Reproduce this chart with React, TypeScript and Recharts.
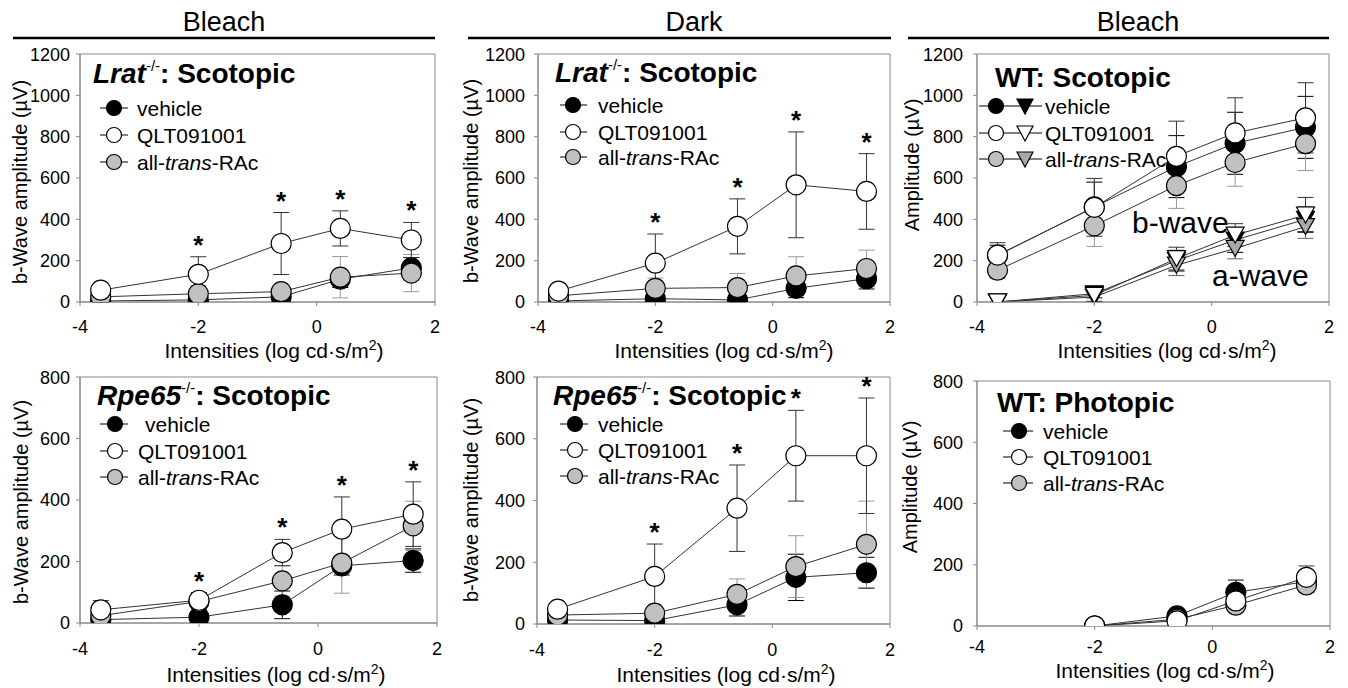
import React from 'react';
import { ComposedChart, Line, Scatter, XAxis, YAxis, ErrorBar, ReferenceArea } from 'recharts';

const FONT = '"Liberation Sans", Arial, Helvetica, sans-serif';
const GRAY = '#c0c0c0';
const TRI_GRAY = '#a8a8a8';
const AXIS = '#888';

// flash intensities (log cd·s/m²)
const SCOT_X = [-3.65, -2, -0.6, 0.4, 1.6];
const PHOT_X = [-2, -0.6, 0.4, 1.6];
const STAR_AT = [0, 1, 1, 1, 1];

const TICKS_1200 = [0, 200, 400, 600, 800, 1000, 1200];
const TICKS_800 = [0, 200, 400, 600, 800];

// Lrat-/- scotopic, bleach
const LRAT_BL_VEH = [5, 10, 25, 110, 165];
const LRAT_BL_VEH_SE = [5, 10, 15, 40, 50];
const LRAT_BL_ATR = [25, 40, 50, 120, 140];
const LRAT_BL_ATR_SE = [10, 40, 20, 100, 90];
const LRAT_BL_QLT = [57, 134, 283, 356, 300];
const LRAT_BL_QLT_SE = [15, 85, 150, 85, 85];

// Lrat-/- scotopic, dark
const LRAT_DK_VEH = [5, 16, 10, 66, 113];
const LRAT_DK_VEH_SE = [5, 10, 10, 45, 50];
const LRAT_DK_ATR = [30, 66, 70, 126, 162];
const LRAT_DK_ATR_SE = [10, 50, 68, 93, 89];
const LRAT_DK_QLT = [53, 188, 366, 567, 535];
const LRAT_DK_QLT_SE = [15, 141, 133, 256, 183];

// WT scotopic, bleach: b-wave and a-wave
const WT_B_VEH = [225, 460, 655, 768, 845];
const WT_B_VEH_SE = [50, 120, 150, 150, 150];
const WT_B_ATR = [154, 369, 563, 675, 766];
const WT_B_ATR_SE = [40, 100, 110, 115, 130];
const WT_B_QLT = [227, 458, 705, 818, 891];
const WT_B_QLT_SE = [60, 140, 170, 170, 170];
const WT_A_VEH = [0, 40, 200, 300, 400];
const WT_A_VEH_SE = [0, 20, 50, 60, 60];
const WT_A_ATR = [0, 24, 178, 259, 365];
const WT_A_ATR_SE = [0, 20, 50, 50, 57];
const WT_A_QLT = [0, 32, 210, 324, 421];
const WT_A_QLT_SE = [0, 30, 55, 55, 85];

// Rpe65-/- scotopic, bleach
const RPE_BL_VEH = [11, 19, 59, 186, 203];
const RPE_BL_VEH_SE = [5, 8, 45, 30, 38];
const RPE_BL_ATR = [24, 70, 137, 195, 316];
const RPE_BL_ATR_SE = [10, 25, 50, 98, 80];
const RPE_BL_QLT = [43, 74, 229, 305, 354];
const RPE_BL_QLT_SE = [30, 25, 43, 105, 105];

// Rpe65-/- scotopic, dark
const RPE_DK_VEH = [13, 11, 62, 151, 166];
const RPE_DK_VEH_SE = [5, 5, 36, 75, 50];
const RPE_DK_ATR = [29, 35, 96, 186, 258];
const RPE_DK_ATR_SE = [10, 20, 50, 100, 140];
const RPE_DK_QLT = [48, 154, 375, 545, 545];
const RPE_DK_QLT_SE = [10, 105, 140, 147, 187];

// WT photopic, bleach
const WT_PH_VEH = [0, 33, 110, 145];
const WT_PH_VEH_SE = [0, 10, 40, 30];
const WT_PH_ATR = [0, 22, 68, 134];
const WT_PH_ATR_SE = [0, 8, 20, 25];
const WT_PH_QLT = [0, 17, 82, 159];
const WT_PH_QLT_SE = [0, 8, 30, 37];

function makeRows(x: number[], cols: Record<string, number[]>) {
  return x.map((xv, i) => {
    const r: any = { x: xv };
    for (const k in cols) r[k] = cols[k][i];
    return r;
  });
}

function makeStars(x: number[], v: number[], se: number[]) {
  return x.filter((_, i) => STAR_AT[i]).map((xv) => {
    const i = x.indexOf(xv);
    return { x: xv, y: v[i] + se[i] };
  });
}

const tri = (fill: string) => (p: any) => {
  if (p.cx == null || p.cy == null) return <g key={`t-${p.index}`} />;
  const { cx, cy } = p;
  return (
    <path
      key={`t-${p.index}`}
      d={`M${cx - 9},${cy - 8} L${cx + 9},${cy - 8} L${cx},${cy + 8} Z`}
      fill={fill}
      stroke="#000"
      strokeWidth={1.2}
    />
  );
};

const star = (p: any) => (
  <text x={p.cx} y={p.cy - 3} textAnchor="middle" fontSize={26} fontWeight="bold" fontFamily={FONT} fill="#000">
    *
  </text>
);

type Series = { key: string; se: string; fill: string; err: string; shape?: 'tri' };

const CIRCLES: Series[] = [
  { key: 'veh', se: 'vehSe', fill: '#000', err: '#000' },
  { key: 'atr', se: 'atrSe', fill: GRAY, err: '#999' },
  { key: 'qlt', se: 'qltSe', fill: '#fff', err: '#333' },
];

const WT_SERIES: Series[] = [
  { key: 'aVeh', se: 'aVehSe', fill: '#000', err: '#000', shape: 'tri' },
  { key: 'aAtr', se: 'aAtrSe', fill: TRI_GRAY, err: '#666', shape: 'tri' },
  { key: 'aQlt', se: 'aQltSe', fill: '#fff', err: '#333', shape: 'tri' },
  ...CIRCLES,
];

type PanelCfg = {
  left: number; top: number; w: number; h: number; yMax: number;
  rows: any[]; series: Series[]; stars?: any[]; yGap: number; xGap: number;
};

function Panel({ cfg }: { cfg: PanelCfg }) {
  const { left, top, w, h, yMax, rows, series, stars, yGap, xGap } = cfg;
  const ML = 75, MT = 10, MR = 12, XH = 70;
  const tick = { fontSize: 18, fill: '#000', fontFamily: FONT };
  return (
    <div style={{ position: 'absolute', left: left - ML, top: top - MT }}>
      <ComposedChart width={w + ML + MR} height={h + MT + XH} data={rows} margin={{ top: MT, right: MR, bottom: 0, left: 0 }}>
        <XAxis
          dataKey="x" type="number" domain={[-4, 2]} ticks={[-4, -2, 0, 2]} allowDataOverflow
          height={XH} axisLine={{ stroke: AXIS }} tickLine={{ stroke: AXIS }} tickSize={4} tickMargin={xGap - 4} tick={tick}
        />
        <YAxis
          type="number" domain={[0, yMax]} ticks={yMax === 1200 ? TICKS_1200 : TICKS_800} allowDataOverflow
          width={ML} axisLine={{ stroke: AXIS }} tickLine={{ stroke: AXIS }} tickSize={4} tickMargin={yGap - 4} tick={tick}
        />
        <ReferenceArea x1={-4} x2={2} y1={0} y2={yMax} fill="none" stroke={AXIS} strokeWidth={1} ifOverflow="visible" />
        {series.map((s) => (
          <Line
            key={s.key}
            dataKey={s.key}
            stroke="#333"
            strokeWidth={1}
            isAnimationActive={false}
            activeDot={false}
            legendType="none"
            dot={s.shape === 'tri' ? tri(s.fill) : { r: 10, fill: s.fill, stroke: '#000', strokeWidth: 1.2 }}
          >
            <ErrorBar dataKey={s.se} width={8} stroke={s.err} strokeWidth={1} direction="y" />
          </Line>
        ))}
        {stars && <Scatter data={stars} dataKey="y" isAnimationActive={false} shape={star} legendType="none" />}
      </ComposedChart>
    </div>
  );
}

const PANELS: PanelCfg[] = [
  {
    left: 80, top: 54, w: 355, h: 248, yMax: 1200, yGap: 10, xGap: 18, series: CIRCLES,
    rows: makeRows(SCOT_X, { veh: LRAT_BL_VEH, vehSe: LRAT_BL_VEH_SE, atr: LRAT_BL_ATR, atrSe: LRAT_BL_ATR_SE, qlt: LRAT_BL_QLT, qltSe: LRAT_BL_QLT_SE }),
    stars: makeStars(SCOT_X, LRAT_BL_QLT, LRAT_BL_QLT_SE),
  },
  {
    left: 538, top: 54, w: 352, h: 248, yMax: 1200, yGap: 13, xGap: 18, series: CIRCLES,
    rows: makeRows(SCOT_X, { veh: LRAT_DK_VEH, vehSe: LRAT_DK_VEH_SE, atr: LRAT_DK_ATR, atrSe: LRAT_DK_ATR_SE, qlt: LRAT_DK_QLT, qltSe: LRAT_DK_QLT_SE }),
    stars: makeStars(SCOT_X, LRAT_DK_QLT, LRAT_DK_QLT_SE),
  },
  {
    left: 977, top: 54, w: 352, h: 248, yMax: 1200, yGap: 14, xGap: 18, series: WT_SERIES,
    rows: makeRows(SCOT_X, {
      veh: WT_B_VEH, vehSe: WT_B_VEH_SE, atr: WT_B_ATR, atrSe: WT_B_ATR_SE, qlt: WT_B_QLT, qltSe: WT_B_QLT_SE,
      aVeh: WT_A_VEH, aVehSe: WT_A_VEH_SE, aAtr: WT_A_ATR, aAtrSe: WT_A_ATR_SE, aQlt: WT_A_QLT, aQltSe: WT_A_QLT_SE,
    }),
  },
  {
    left: 80, top: 377, w: 357, h: 246, yMax: 800, yGap: 10, xGap: 19, series: CIRCLES,
    rows: makeRows(SCOT_X, { veh: RPE_BL_VEH, vehSe: RPE_BL_VEH_SE, atr: RPE_BL_ATR, atrSe: RPE_BL_ATR_SE, qlt: RPE_BL_QLT, qltSe: RPE_BL_QLT_SE }),
    stars: makeStars(SCOT_X, RPE_BL_QLT, RPE_BL_QLT_SE),
  },
  {
    left: 537, top: 377, w: 353, h: 247, yMax: 800, yGap: 12, xGap: 19, series: CIRCLES,
    rows: makeRows(SCOT_X, { veh: RPE_DK_VEH, vehSe: RPE_DK_VEH_SE, atr: RPE_DK_ATR, atrSe: RPE_DK_ATR_SE, qlt: RPE_DK_QLT, qltSe: RPE_DK_QLT_SE }),
    stars: makeStars(SCOT_X, RPE_DK_QLT, RPE_DK_QLT_SE),
  },
  {
    left: 977, top: 381, w: 353, h: 245, yMax: 800, yGap: 14, xGap: 14, series: CIRCLES,
    rows: makeRows(PHOT_X, { veh: WT_PH_VEH, vehSe: WT_PH_VEH_SE, atr: WT_PH_ATR, atrSe: WT_PH_ATR_SE, qlt: WT_PH_QLT, qltSe: WT_PH_QLT_SE }),
  },
];

const LEGEND_ITEMS = [
  { fill: '#000', tri: '#000', label: <>vehicle</> },
  { fill: '#fff', tri: '#fff', label: <>QLT091001</> },
  { fill: GRAY, tri: TRI_GRAY, label: <>all-<tspan fontStyle="italic">trans</tspan>-RAc</> },
];

function LegendBlock({ x1, x2, cx, tx, rows, t, vehDx = 0 }: any) {
  return (
    <g>
      {LEGEND_ITEMS.map((it, i) => (
        <g key={i}>
          <line x1={x1} x2={x2} y1={rows[i]} y2={rows[i]} stroke="#000" strokeWidth={1} />
          <circle cx={cx} cy={rows[i]} r={7.5} fill={it.fill} stroke="#000" strokeWidth={1.2} />
          {t && (
            <>
              <line x1={t.x1} x2={t.x2} y1={rows[i]} y2={rows[i]} stroke="#000" strokeWidth={1} />
              <path d={`M${t.cx - 8},${rows[i] - 7} L${t.cx + 8},${rows[i] - 7} L${t.cx},${rows[i] + 8} Z`} fill={it.tri} stroke="#000" strokeWidth={1.2} />
            </>
          )}
          <text x={tx + (i === 0 ? vehDx : 0)} y={rows[i]} dominantBaseline="central" fontSize={21} fontFamily={FONT}>
            {it.label}
          </text>
        </g>
      ))}
    </g>
  );
}

function GeneTitle({ x, y, gene }: { x: number; y: number; gene: string }) {
  return (
    <text x={x} y={y} fontSize={28} fontWeight="bold" fontFamily={FONT}>
      <tspan fontStyle="italic">{gene}</tspan>
      <tspan fontSize={15} fontWeight="normal" dy={-12}>-/-</tspan>
      <tspan dy={12}>: Scotopic</tspan>
    </text>
  );
}

function XTitle({ x, y }: { x: number; y: number }) {
  return (
    <text x={x} y={y} textAnchor="middle" fontSize={21} fontFamily={FONT}>
      Intensities (log cd·s/m<tspan fontSize={14} dy={-8}>2</tspan>
      <tspan dy={8}>)</tspan>
    </text>
  );
}

function YTitle({ x, y, text }: { x: number; y: number; text: string }) {
  return (
    <text x={x} y={y} transform={`rotate(-90 ${x} ${y})`} textAnchor="middle" dominantBaseline="central" fontSize={20} fontFamily={FONT}>
      {text}
    </text>
  );
}

function Overlay() {
  return (
    <svg width={1348} height={688} style={{ position: 'absolute', left: 0, top: 0 }}>
      {/* condition headers */}
      <text x={224} y={31} textAnchor="middle" fontSize={27} fontFamily={FONT}>Bleach</text>
      <line x1={13} x2={435} y1={38} y2={38} stroke="#000" strokeWidth={2.5} />
      <text x={694} y={31} textAnchor="middle" fontSize={27} fontFamily={FONT}>Dark</text>
      <line x1={468} x2={891} y1={38} y2={38} stroke="#000" strokeWidth={2.5} />
      <text x={1138} y={31} textAnchor="middle" fontSize={27} fontFamily={FONT}>Bleach</text>
      <line x1={908} x2={1329} y1={38} y2={38} stroke="#000" strokeWidth={2.5} />

      <GeneTitle x={93} y={83} gene="Lrat" />
      <GeneTitle x={555} y={82} gene="Lrat" />
      <text x={995} y={87} fontSize={28} fontWeight="bold" fontFamily={FONT}>WT: Scotopic</text>
      <GeneTitle x={97} y={405} gene="Rpe65" />
      <GeneTitle x={553} y={405} gene="Rpe65" />
      <text x={997} y={412} fontSize={28} fontWeight="bold" fontFamily={FONT}>WT: Photopic</text>

      <LegendBlock x1={100} x2={128} cx={114} tx={137} rows={[108, 135, 162]} />
      <LegendBlock x1={560} x2={587} cx={573} tx={598} rows={[105, 132, 157]} />
      <LegendBlock x1={979} x2={1013} cx={996} tx={1045} rows={[106, 133, 159]} t={{ x1: 1013, x2: 1042, cx: 1025 }} />
      <LegendBlock x1={100} x2={128} cx={115} tx={138} rows={[424, 451, 477]} vehDx={7} />
      <LegendBlock x1={560} x2={588} cx={575} tx={598} rows={[424, 450, 476]} />
      <LegendBlock x1={1003} x2={1033} cx={1019} tx={1043} rows={[431, 457, 483]} />

      <text x={1132} y={233} fontSize={30} fontFamily={FONT}>b-wave</text>
      <text x={1212} y={286} fontSize={30} fontFamily={FONT}>a-wave</text>

      <XTitle x={274} y={358} />
      <XTitle x={724} y={358} />
      <XTitle x={1167} y={358} />
      <XTitle x={276} y={682} />
      <XTitle x={726} y={682} />
      <XTitle x={1165} y={678} />

      <YTitle x={20} y={182} text="b-Wave amplitude (µV)" />
      <YTitle x={471} y={181} text="b-Wave amplitude (µV)" />
      <YTitle x={912} y={165} text="Amplitude (µV)" />
      <YTitle x={21} y={502} text="b-Wave amplitude (µV)" />
      <YTitle x={471} y={500} text="b-Wave amplitude (µV)" />
      <YTitle x={910} y={487} text="Amplitude (µV)" />
    </svg>
  );
}

export default function App() {
  return (
    <div style={{ position: 'absolute', left: 0, top: 0, width: 1348, height: 688, background: '#fff', fontFamily: FONT, overflow: 'hidden' }}>
      <Overlay />
      {PANELS.map((p, i) => (
        <Panel key={i} cfg={p} />
      ))}
    </div>
  );
}
